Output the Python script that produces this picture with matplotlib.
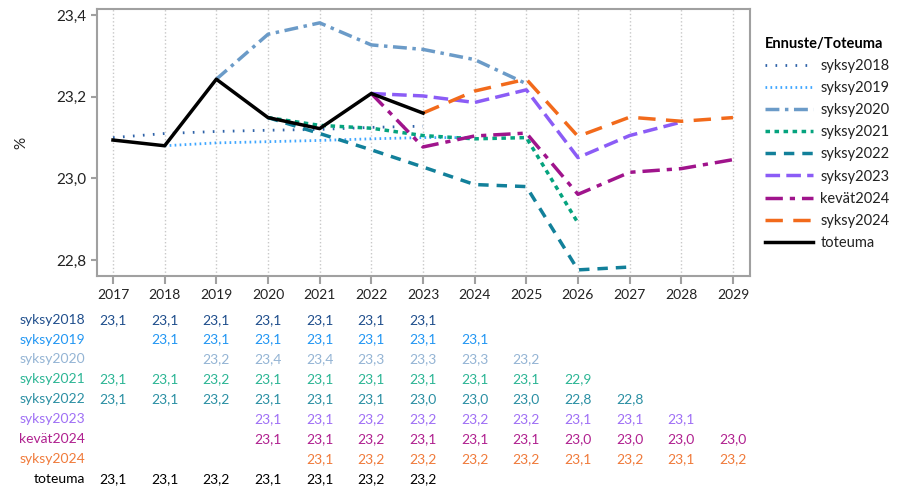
import matplotlib.pyplot as plt
from matplotlib.transforms import blended_transform_factory

plt.rcParams['font.family'] = ['Lato', 'DejaVu Sans']

years = list(range(2017, 2030))

# forecast lines (year lists + values)
syksy2018_x = [2017, 2018, 2019, 2020, 2021, 2022, 2023]
syksy2018_y = [23.10, 23.11, 23.115, 23.118, 23.12, 23.125, 23.128]
syksy2019_x = [2018, 2019, 2020, 2021, 2022, 2023, 2024]
syksy2019_y = [23.08, 23.087, 23.09, 23.093, 23.097, 23.10, 23.10]
syksy2020_x = [2019, 2020, 2021, 2022, 2023, 2024, 2025]
syksy2020_y = [23.243, 23.353, 23.381, 23.327, 23.316, 23.291, 23.232]
syksy2021_x = [2020, 2021, 2022, 2023, 2024, 2025, 2026]
syksy2021_y = [23.149, 23.130, 23.123, 23.105, 23.097, 23.10, 22.891]
syksy2022_x = [2020, 2021, 2022, 2023, 2024, 2025, 2026, 2027]
syksy2022_y = [23.149, 23.110, 23.070, 23.028, 22.985, 22.980, 22.776, 22.783]
syksy2023_x = [2022, 2023, 2024, 2025, 2026, 2027, 2028]
syksy2023_y = [23.208, 23.202, 23.186, 23.217, 23.051, 23.105, 23.138]
kevat2024_x = [2022, 2023, 2024, 2025, 2026, 2027, 2028, 2029]
kevat2024_y = [23.208, 23.077, 23.104, 23.111, 22.961, 23.015, 23.024, 23.046]
syksy2024_x = [2023, 2024, 2025, 2026, 2027, 2028, 2029]
syksy2024_y = [23.160, 23.214, 23.243, 23.103, 23.150, 23.140, 23.149]
toteuma_x = [2017, 2018, 2019, 2020, 2021, 2022, 2023]
toteuma_y = [23.094, 23.080, 23.243, 23.149, 23.122, 23.208, 23.160]

# table below the chart (2017..2029, None = empty)
N = None
tab_syksy2018 = ['23,1', '23,1', '23,1', '23,1', '23,1', '23,1', '23,1', N, N, N, N, N, N]
tab_syksy2019 = [N, '23,1', '23,1', '23,1', '23,1', '23,1', '23,1', '23,1', N, N, N, N, N]
tab_syksy2020 = [N, N, '23,2', '23,4', '23,4', '23,3', '23,3', '23,3', '23,2', N, N, N, N]
tab_syksy2021 = ['23,1', '23,1', '23,2', '23,1', '23,1', '23,1', '23,1', '23,1', '23,1', '22,9', N, N, N]
tab_syksy2022 = ['23,1', '23,1', '23,2', '23,1', '23,1', '23,1', '23,0', '23,0', '23,0', '22,8', '22,8', N, N]
tab_syksy2023 = [N, N, N, '23,1', '23,1', '23,2', '23,2', '23,2', '23,2', '23,1', '23,1', '23,1', N]
tab_kevat2024 = [N, N, N, '23,1', '23,1', '23,2', '23,1', '23,1', '23,1', '23,0', '23,0', '23,0', '23,0']
tab_syksy2024 = [N, N, N, N, '23,1', '23,2', '23,2', '23,2', '23,2', '23,1', '23,2', '23,1', '23,2']
tab_toteuma = ['23,1', '23,1', '23,2', '23,1', '23,1', '23,2', '23,2', N, N, N, N, N, N]

fig = plt.figure(figsize=(9.02, 4.88), dpi=100)
ax = fig.add_axes([0.1075, 0.4344, 0.724, 0.5472])

series = [
    ('syksy2018', syksy2018_x, syksy2018_y, '#2e62a8', 2.0, (0, (0.6, 3.0)), tab_syksy2018, '#1f4e8c'),
    ('syksy2019', syksy2019_x, syksy2019_y, '#3ea6ff', 2.0, (0, (0.6, 1.2)), tab_syksy2019, '#2196f3'),
    ('syksy2020', syksy2020_x, syksy2020_y, '#6b9bc8', 2.5, (0, (4, 1.6, 1, 1.6)), tab_syksy2020, '#94b4d4'),
    ('syksy2021', syksy2021_x, syksy2021_y, '#05a37e', 2.5, (0, (1.3, 1.3)), tab_syksy2021, '#2bb594'),
    ('syksy2022', syksy2022_x, syksy2022_y, '#12809a', 2.5, (0, (3.0, 2.3)), tab_syksy2022, '#2a8fa3'),
    ('syksy2023', syksy2023_x, syksy2023_y, '#8b5cf6', 2.5, (0, (4.2, 1.8)), tab_syksy2023, '#9f6ff5'),
    ('kevät2024', kevat2024_x, kevat2024_y, '#a0148c', 2.5, (0, (5, 2, 1.5, 2)), tab_kevat2024, '#b0208f'),
    ('syksy2024', syksy2024_x, syksy2024_y, '#f26a1b', 2.5, (0, (5, 3)), tab_syksy2024, '#f07a3a'),
    ('toteuma', toteuma_x, toteuma_y, '#000000', 2.5, '-', tab_toteuma, '#000000'),
]

for name, xs, ys, col, lw, ls, tab, tcol in series:
    ax.plot(xs, ys, color=col, lw=lw, linestyle=ls, label=name)

ax.set_xlim(2016.69, 2029.33)
ax.set_ylim(22.761, 23.415)
ax.set_xticks(years)
ax.set_yticks([22.8, 23.0, 23.2, 23.4])
ax.set_yticklabels(['22,8', '23,0', '23,2', '23,4'])
ax.grid(axis='x', color='#c8c8c8', linestyle=':', lw=1)
for s in ax.spines.values():
    s.set_color('#a0a0a0')
    s.set_linewidth(1.5)
ax.tick_params(axis='x', colors='#a0a0a0', labelcolor='#222222', length=6,
               width=1.5, labelsize=10, pad=3)
ax.tick_params(axis='y', colors='#a0a0a0', labelcolor='#222222', length=4,
               width=1.5, labelsize=11)
ax.set_ylabel('%', fontsize=11, color='#222222', labelpad=20)

leg = ax.legend(loc='upper left', bbox_to_anchor=(0.848, 0.925), bbox_transform=fig.transFigure,
                frameon=False, fontsize=10.5, title='Ennuste/Toteuma', borderpad=0,
                borderaxespad=0, title_fontproperties={'weight': 'bold', 'size': 10.5},
                handlelength=3.3, handletextpad=0.5, labelspacing=0.56, alignment='left')
for t in leg.get_texts():
    t.set_color('#222222')

# table
tr = blended_transform_factory(ax.transData, fig.transFigure)
row_y = [320, 339.5, 359, 379, 399, 419, 439, 459, 479]
for (name, xs, ys, col, lw, ls, tab, tcol), py in zip(series, row_y):
    yf = 1 - py / 488
    fig.text(85 / 902, yf, name, ha='right', va='center', fontsize=10, color=tcol)
    for yr, v in zip(years, tab):
        if v is not None:
            ax.text(yr, yf, v, transform=tr, ha='center', va='center',
                    fontsize=10, color=tcol, clip_on=False)

fig.savefig('out.png', dpi=100)
